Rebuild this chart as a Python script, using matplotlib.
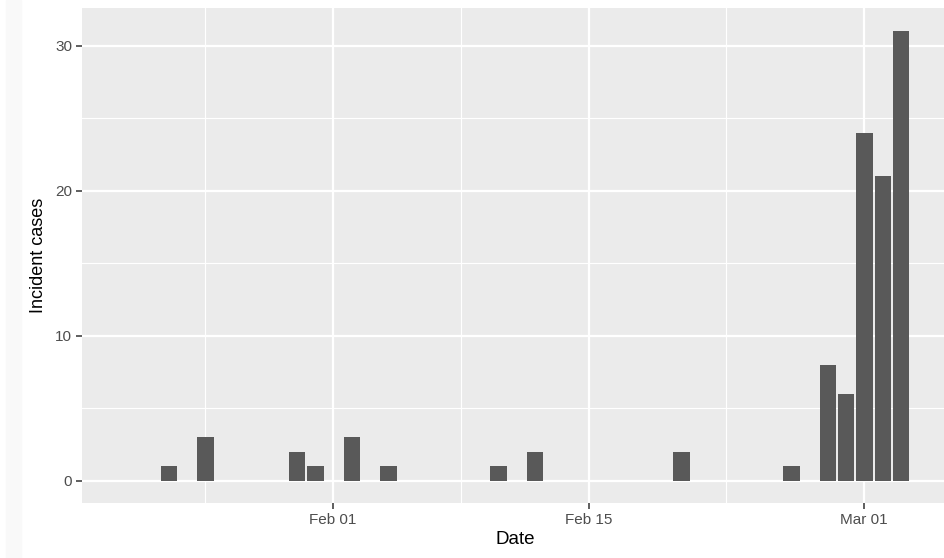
import numpy as np
import pandas as pd
import matplotlib
matplotlib.use('Agg')
matplotlib.rcParams['font.family'] = ['Liberation Sans', 'DejaVu Sans']
import matplotlib.pyplot as plt
import matplotlib.dates as mdates
from matplotlib.patches import Rectangle

# --- data ---
dates = ['2020-01-23', '2020-01-25', '2020-01-30', '2020-01-31', '2020-02-02',
         '2020-02-04', '2020-02-10', '2020-02-12', '2020-02-20', '2020-02-26',
         '2020-02-28', '2020-02-29', '2020-03-01', '2020-03-02', '2020-03-03']
cases = [1, 3, 2, 1, 3, 1, 1, 2, 2, 1, 8, 6, 24, 21, 31]

x_ticks = ['2020-02-01', '2020-02-15', '2020-03-01']
x_tick_labels = ['Feb 01', 'Feb 15', 'Mar 01']
x_minor = ['2020-01-25 00:00', '2020-02-08 00:00', '2020-02-22 12:00']
y_ticks = [0, 10, 20, 30]
y_minor = [5, 15, 25]

d = mdates.date2num(pd.to_datetime(dates))
base = mdates.date2num(pd.Timestamp('2020-02-01'))

fig = plt.figure(figsize=(9.45, 5.58), dpi=100)
# faint strip at the left edge of the screenshot
fig.patches.append(Rectangle((6 / 945, 0), 15 / 945, 1, transform=fig.transFigure,
                             color='#F9F9F9', zorder=0))

ax = fig.add_axes([0.0868, 0.0986, 0.9162, 0.8871])
ax.set_facecolor('#EBEBEB')

ax.bar(d + 0.05, cases, width=0.9, color='#595959', zorder=3)

ax.set_xlim(base - 13.7, base + 33.6)
ax.set_ylim(-1.55, 32.6)

ax.set_xticks(mdates.date2num(pd.to_datetime(x_ticks)))
ax.set_xticklabels(x_tick_labels)
ax.set_xticks(mdates.date2num(pd.to_datetime(x_minor)), minor=True)
ax.set_yticks(y_ticks)
ax.set_yticks(y_minor, minor=True)

ax.grid(which='major', color='white', linewidth=1.6, zorder=1)
ax.grid(which='minor', color='white', linewidth=0.8, zorder=1)
ax.set_axisbelow(True)

for s in ax.spines.values():
    s.set_visible(False)

ax.tick_params(which='major', length=4, width=1.1, color='#333333',
               labelsize=11, labelcolor='#4D4D4D', pad=3)
ax.tick_params(which='minor', length=0)

ax.set_xlabel('Date', fontsize=13.5, color='black', labelpad=3)
ax.set_ylabel('Incident cases', fontsize=13, color='black', labelpad=6)

plt.savefig('out.png', dpi=100)
